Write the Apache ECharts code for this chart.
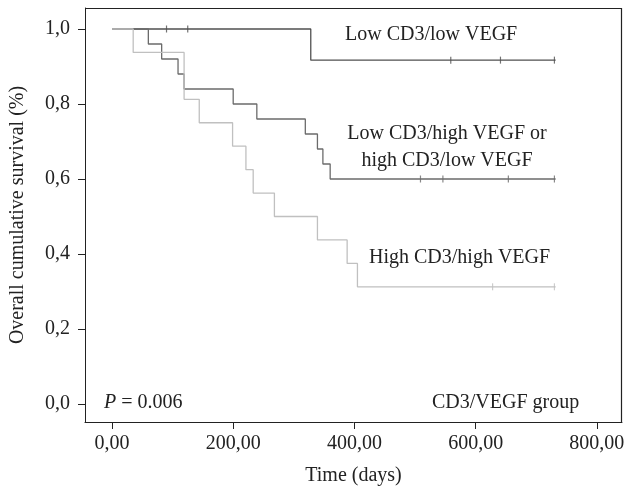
<!DOCTYPE html>
<html>
<head>
<meta charset="utf-8">
<script src="https://cdn.jsdelivr.net/npm/echarts@6/dist/echarts.min.js"></script>
<style>
  html, body { margin: 0; padding: 0; background: #fff; }
  #chart { width: 626px; height: 491px; }
</style>
</head>
<body>
<div id="chart"></div>
<script>
// Kaplan-Meier curves (time in days, survival as fraction)
const lowLowTime = [0, 328, 732];
const lowLowSurv = [1, 0.917, 0.917];
const lowLowCensorTime = [90, 125, 559, 641, 730];
const lowLowCensorSurv = [1, 1, 0.917, 0.917, 0.917];

const mixedTime = [0, 60, 82, 109, 119, 200, 239, 319, 339, 348, 360, 732];
const mixedSurv = [1, 0.96, 0.92, 0.88, 0.84, 0.80, 0.76, 0.72, 0.68, 0.64, 0.60, 0.60];
const mixedCensorTime = [509, 546, 654, 730];
const mixedCensorSurv = [0.60, 0.60, 0.60, 0.60];

const highHighTime = [0, 35, 119, 144, 199, 221, 233, 268, 339, 388, 405, 732];
const highHighSurv = [1, 0.9375, 0.8125, 0.75, 0.6875, 0.625, 0.5625, 0.5, 0.4375, 0.375, 0.3125, 0.3125];
const highHighCensorTime = [628, 730];
const highHighCensorSurv = [0.3125, 0.3125];

const xTicks = [0, 200, 400, 600, 800];
const yTicks = [0, 0.2, 0.4, 0.6, 0.8, 1.0];

const serif = 'Liberation Serif';
const txt = '#222';

// plot box in pixels
const box = { left: 85, top: 8, right: 622, bottom: 422 };

const zip = (a, b) => a.map((v, i) => [v, b[i]]);

function curve(name, time, surv, color) {
  return {
    name: name,
    type: 'line',
    step: 'end',
    symbol: 'none',
    data: zip(time, surv),
    lineStyle: { color: color, width: 1.3 },
    silent: true
  };
}

function censor(name, time, surv, color) {
  return {
    name: name,
    type: 'scatter',
    symbol: 'rect',
    symbolSize: [1.2, 7],
    data: zip(time, surv),
    itemStyle: { color: color },
    silent: true
  };
}

function frameLine(x1, y1, x2, y2) {
  return {
    type: 'line', silent: true, z: 10,
    shape: { x1: x1, y1: y1, x2: x2, y2: y2 },
    style: { stroke: '#222', lineWidth: 1.2 }
  };
}

const chart = echarts.init(document.getElementById('chart'));

const option = {
  animation: false,
  backgroundColor: '#fff',
  grid: {
    left: box.left, right: 626 - box.right, top: box.top, bottom: 491 - box.bottom,
    containLabel: false, outerBoundsMode: 'none'
  },
  xAxis: {
    type: 'value',
    min: -44.5,
    max: 841.5,
    name: 'Time (days)',
    nameLocation: 'middle',
    nameGap: 44,
    nameTextStyle: { fontFamily: serif, fontSize: 20, color: txt },
    axisLine: { show: true, onZero: false, lineStyle: { color: '#222', width: 1 } },
    axisTick: { show: true, length: 7, customValues: xTicks, lineStyle: { color: '#222' } },
    axisLabel: {
      customValues: xTicks,
      margin: 12,
      fontFamily: serif, fontSize: 20, color: txt,
      formatter: v => v.toFixed(2).replace('.', ',')
    },
    splitLine: { show: false }
  },
  yAxis: {
    type: 'value',
    min: -0.048,
    max: 1.056,
    name: 'Overall cumulative survival (%)',
    nameLocation: 'middle',
    nameGap: 57,
    nameTextStyle: { fontFamily: serif, fontSize: 20, color: txt },
    axisLine: { show: true, onZero: false, lineStyle: { color: '#222', width: 1 } },
    axisTick: { show: true, length: 7, customValues: yTicks, lineStyle: { color: '#222' } },
    axisLabel: {
      customValues: yTicks,
      margin: 15,
      fontFamily: serif, fontSize: 20, color: txt,
      formatter: v => v.toFixed(1).replace('.', ',')
    },
    splitLine: { show: false }
  },
  series: [
    curve('Low CD3/low VEGF', lowLowTime, lowLowSurv, '#505050'),
    curve('Low CD3/high VEGF or high CD3/low VEGF', mixedTime, mixedSurv, '#6b6b6b'),
    curve('High CD3/high VEGF', highHighTime, highHighSurv, '#c0c0c0'),
    censor('Low CD3/low VEGF censored', lowLowCensorTime, lowLowCensorSurv, '#505050'),
    censor('Mixed censored', mixedCensorTime, mixedCensorSurv, '#6b6b6b'),
    censor('High CD3/high VEGF censored', highHighCensorTime, highHighCensorSurv, '#c0c0c0')
  ],
  graphic: [
    // top and right sides of the frame
    frameLine(box.left, box.top + 0.5, box.right, box.top + 0.5),
    frameLine(box.right - 0.5, box.top, box.right - 0.5, box.bottom),
    {
      type: 'text', x: 345, y: 35,
      style: { text: 'Low CD3/low VEGF', font: '20px ' + serif, fill: txt, textVerticalAlign: 'middle' }
    },
    {
      type: 'text', x: 447, y: 147,
      style: {
        text: 'Low CD3/high VEGF or\nhigh CD3/low VEGF', font: '20px ' + serif, fill: txt,
        textAlign: 'center', textVerticalAlign: 'middle', lineHeight: 27
      }
    },
    {
      type: 'text', x: 369, y: 258,
      style: { text: 'High CD3/high VEGF', font: '20px ' + serif, fill: txt, textVerticalAlign: 'middle' }
    },
    {
      type: 'text', x: 104, y: 403,
      style: {
        text: '{i|P} = 0.006', font: '20px ' + serif, fill: txt, textVerticalAlign: 'middle',
        rich: { i: { fontStyle: 'italic', fontFamily: serif, fontSize: 20, fill: txt } }
      }
    },
    {
      type: 'text', x: 432, y: 403,
      style: { text: 'CD3/VEGF group', font: '20px ' + serif, fill: txt, textVerticalAlign: 'middle' }
    }
  ]
};

chart.setOption(option);
window.addEventListener('resize', () => chart.resize());
</script>
</body>
</html>
